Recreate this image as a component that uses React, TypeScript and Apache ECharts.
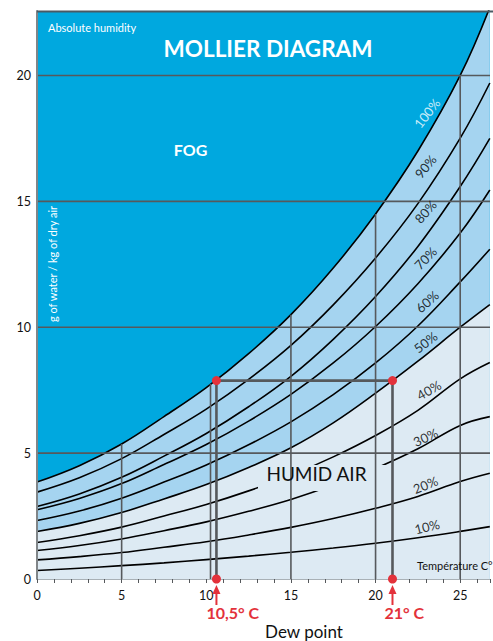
import React, { useEffect, useRef } from "react";
import * as echarts from "echarts";

// Temperature samples (°C) for the relative-humidity curves
const xs = [0, 2.5, 5, 7.5, 10, 12.5, 15, 17.5, 20, 22.5, 25, 26.75];
// Absolute humidity (g water / kg dry air)
const rh100 = [3.85, 4.5, 5.36, 6.45, 7.6, 8.95, 10.5, 12.35, 14.5, 17.0, 20.0, 22.7];
const rh90 = [3.45, 4.02, 4.78, 5.74, 6.75, 7.93, 9.28, 10.89, 12.75, 14.91, 17.51, 19.7];
const rh80 = [2.88, 3.38, 4.04, 4.88, 5.78, 6.84, 8.05, 9.52, 11.22, 13.21, 15.59, 17.5];
const rh70 = [2.75, 3.2, 3.79, 4.55, 5.34, 6.27, 7.33, 8.58, 10.03, 11.73, 13.74, 15.45];
const rh60 = [2.32, 2.7, 3.21, 3.85, 4.53, 5.33, 6.24, 7.32, 8.58, 10.05, 11.8, 13.1];
const rh50 = [1.89, 2.21, 2.64, 3.18, 3.75, 4.43, 5.21, 6.2, 7.38, 8.65, 10.0, 10.9];
const rh40 = [1.45, 1.72, 2.06, 2.5, 2.96, 3.5, 4.12, 4.85, 5.7, 6.7, 7.95, 8.6];
const rh30 = [1.13, 1.33, 1.59, 1.92, 2.27, 2.69, 3.16, 3.73, 4.39, 5.17, 6.1, 6.45];
const rh20 = [0.76, 0.89, 1.05, 1.26, 1.48, 1.75, 2.05, 2.4, 2.81, 3.28, 3.87, 4.2];
const rh10 = [0.34, 0.43, 0.53, 0.64, 0.77, 0.91, 1.06, 1.23, 1.42, 1.64, 1.89, 2.08];

const curveNames = ["100%", "90%", "80%", "70%", "60%", "50%", "40%", "30%", "20%", "10%"];
const labelX = [23.04, 22.95, 22.95, 22.95, 23.05, 22.95, 23.15, 22.95, 22.95, 23.04];
const labelY = [18.5, 16.38, 14.59, 12.74, 11.02, 9.4, 7.5, 5.63, 3.74, 2.08];
const labelAngle = [52, 50, 48, 46, 42, 38, 30, 25, 22, 14];

// Vertical grid lines stop at the saturation curve
const vGridX = [5, 10.25, 15, 20, 25];
const vGridTop = [5.36, 7.75, 10.5, 14.5, 20.0];
const hGridY = [5, 10, 15, 20];

// Example: dew point reading
const dewX = 10.6;
const roomX = 21;
const dewY = 7.88;

const xMax = 26.76;
const yMax = 22.56;

const FONT = "Lato, 'Open Sans', sans-serif";
const FOG = "#00A8DF";
const LIGHT = "#A5D4F0";
const PALE = "#DDEAF3";
const GRID = "#56595C";
const RED = "#E3323B";

function pts(ys: number[]) {
  return xs.map((x, i) => [x, ys[i]]);
}

function buildOption() {
  const curves = [rh100, rh90, rh80, rh70, rh60, rh50, rh40, rh30, rh20, rh10];
  const series: any[] = [];
  series.push({
    type: "line",
    data: pts(rh100),
    smooth: 0.4,
    showSymbol: false,
    silent: true,
    z: 1,
    lineStyle: { color: "#000", width: 1.6 },
    areaStyle: { color: LIGHT, opacity: 1 },
  });
  series.push({
    type: "line",
    data: pts(rh50),
    smooth: 0.4,
    showSymbol: false,
    silent: true,
    z: 1,
    lineStyle: { color: "#000", width: 1.6 },
    areaStyle: { color: PALE, opacity: 1 },
  });
  curves.forEach((c, i) => {
    if (i === 0 || i === 5) return;
    series.push({
      type: "line",
      data: pts(c),
      smooth: 0.4,
      showSymbol: false,
      silent: true,
      z: 3,
      lineStyle: { color: "#000", width: 1.6 },
    });
  });
  hGridY.forEach((y) => {
    series.push({
      type: "line",
      data: [
        [0, y],
        [xMax, y],
      ],
      showSymbol: false,
      silent: true,
      z: 4,
      lineStyle: { color: GRID, width: 1.6 },
    });
  });
  vGridX.forEach((x, i) => {
    series.push({
      type: "line",
      data: [
        [x, 0],
        [x, vGridTop[i]],
      ],
      showSymbol: false,
      silent: true,
      z: 4,
      lineStyle: { color: GRID, width: 1.6 },
    });
  });
  series.push({
    type: "line",
    data: [
      [dewX, 0],
      [dewX, dewY],
      [roomX, dewY],
      [roomX, 0],
    ],
    showSymbol: false,
    silent: true,
    z: 5,
    lineStyle: { color: GRID, width: 2.6 },
  });
  series.push({
    type: "scatter",
    data: [
      [dewX, 0],
      [dewX, dewY],
      [roomX, dewY],
      [roomX, 0],
    ],
    symbolSize: 9,
    clip: false,
    silent: true,
    z: 12,
    itemStyle: { color: RED, opacity: 1 },
  });
  series.push({
    type: "scatter",
    symbolSize: 0,
    silent: true,
    z: 7,
    data: curveNames.map((n, i) => ({
      value: [labelX[i], labelY[i]],
      label: {
        show: true,
        formatter: n,
        rotate: labelAngle[i],
        position: "inside",
        color: i === 0 ? "#fff" : "#000",
        textBorderWidth: 0,
        textBorderColor: "transparent",
        fontSize: 13,
        fontFamily: FONT,
      },
    })),
  });

  return {
    animation: false,
    backgroundColor: "#fff",
    grid: {
      left: 37,
      top: 11,
      right: 0,
      bottom: 62,
      show: true,
      backgroundColor: FOG,
      borderWidth: 0,
    },
    xAxis: {
      type: "value",
      min: 0,
      max: xMax,
      interval: 1,
      z: 10,
      axisLine: { show: true, lineStyle: { color: "#a9b1b6", width: 1 } },
      axisTick: { show: true, length: 4, lineStyle: { color: GRID, width: 1 } },
      axisLabel: {
        formatter: (v: number) => (Math.abs(v % 5) < 1e-6 ? String(v) : ""),
        color: "#111",
        fontSize: 12.5,
        fontFamily: FONT,
        margin: 10,
      },
      splitLine: { show: false },
    },
    yAxis: {
      type: "value",
      min: 0,
      max: yMax,
      interval: 5,
      z: 10,
      axisLine: { show: true, lineStyle: { color: "#808588", width: 2 } },
      axisTick: { show: false },
      axisLabel: {
        formatter: (v: number) => (Math.abs(v % 5) < 1e-6 ? String(v) : ""),
        color: "#111",
        fontSize: 12.5,
        fontFamily: FONT,
        margin: 6,
        padding: [0, 0, 8, 0],
      },
      splitLine: { show: false },
    },
    series,
  };
}

function buildGraphic(pd: number[], pr: number[]) {
  const arrow = (x: number, id: string) => [
    {
      type: "polygon",
      id: id + "h",
      z: 20,
      shape: {
        points: [
          [x, 585],
          [x - 4, 594],
          [x + 4, 594],
        ],
      },
      style: { fill: RED },
    },
    {
      type: "line",
      id: id + "s",
      z: 20,
      shape: { x1: x, y1: 592, x2: x, y2: 605 },
      style: { stroke: RED, lineWidth: 2 },
    },
  ];
  const txt = (id: string, x: number, y: number, text: string, style: any, extra: any = {}) => ({
    type: "text",
    id,
    x,
    y,
    z: 20,
    ...extra,
    style: {
      text,
      fontFamily: FONT,
      align: "center",
      verticalAlign: "middle",
      ...style,
    },
  });
  return [
    {
      type: "line",
      id: "topBorder",
      z: 20,
      shape: { x1: 37, y1: 11.5, x2: 493, y2: 11.5 },
      style: { stroke: "#4a5a64", lineWidth: 2 },
    },
    {
      type: "rect",
      id: "knock",
      z: 3.5,
      shape: { x: 258, y: 465, width: 129, height: 26 },
      style: { fill: PALE },
    },
    txt("abs", 48, 27, "Absolute humidity", { fill: "#fff", fontSize: 11, align: "left" }),
    txt("title", 268, 48, "MOLLIER DIAGRAM", { fill: "#fff", fontSize: 22.5, fontWeight: "bold" }),
    txt("fog", 190.5, 149, "FOG", { fill: "#fff", fontSize: 16, fontWeight: "bold" }),
    txt("humid", 316.5, 473.5, "HUMID AIR", { fill: "#111", fontSize: 19 }),
    txt("temp", 417, 565, "Température C°", { fill: "#111", fontSize: 11, align: "left" }),
    txt("yname", 52.5, 264, "g of water / kg of dry air", { fill: "#fff", fontSize: 11 }, { rotation: Math.PI / 2 }),
    txt("dew", 304, 631, "Dew point", { fill: "#111", fontSize: 17 }),
    txt("l1", pd[0] - 10, 612.5, "10,5° C", { fill: RED, fontSize: 16, fontWeight: "bold", align: "left" }),
    txt("l2", pr[0] - 8, 612.5, "21° C", { fill: RED, fontSize: 16, fontWeight: "bold", align: "left" }),
    ...arrow(pd[0], "a1"),
    ...arrow(pr[0], "a2"),
  ];
}

export default function App() {
  const ref = useRef<HTMLDivElement>(null);
  useEffect(() => {
    if (!ref.current) return;
    const chart = echarts.init(ref.current, null, { renderer: "svg" });
    chart.setOption(buildOption() as any);
    const pd = chart.convertToPixel({ seriesIndex: 0 }, [dewX, 0]) as number[];
    const pr = chart.convertToPixel({ seriesIndex: 0 }, [roomX, 0]) as number[];
    chart.setOption({ graphic: buildGraphic(pd, pr) } as any);
    return () => chart.dispose();
  }, []);
  return (
    <div
      ref={ref}
      style={{ position: "fixed", left: 0, top: 0, width: 493, height: 641, background: "#fff" }}
    />
  );
}
